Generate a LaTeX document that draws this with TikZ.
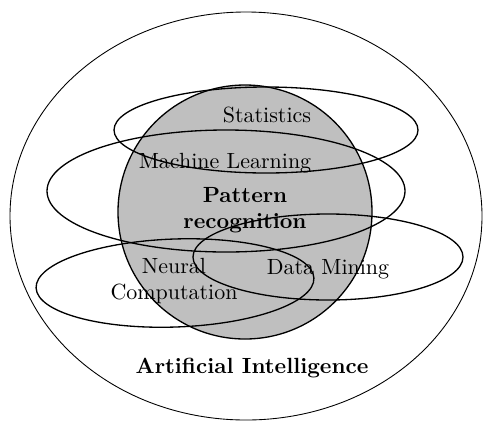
\documentclass[tikz,border=0pt]{standalone}
\usepackage{amsmath}
\usepackage{tikz}
\usepackage{xcolor}
\tikzset{
    outer-set/.style = {draw=black, thin},
    inner-set/.style = {draw=black, semithick},
    core-set/.style = {draw=black, semithick, fill=gray!50},
    set-label/.style = {inner sep=1pt, align=center},
    set-title/.style = {inner sep=1pt, align=center, font=\bfseries},
}

\begin{document}
\begin{tikzpicture}
\useasboundingbox (0,0) rectangle (7.728,-6.72);
\draw[outer-set] (3.936,-3.456) ellipse [x radius=3.776cm, y radius=3.264cm];
\draw[core-set] (3.92,-3.392) circle [radius=2.032cm];
\draw[inner-set] (4.256,-2.08) ellipse [x radius=2.432cm, y radius=0.688cm];
\draw[inner-set] (3.616,-3.056) ellipse [x radius=2.864cm, y radius=0.976cm];
\draw[inner-set, rotate around={2:(2.8,-4.528)}] (2.8,-4.528) ellipse [x radius=2.224cm, y radius=0.704cm];
\draw[inner-set] (5.248,-4.112) ellipse [x radius=2.16cm, y radius=0.688cm];
\node[set-label] (stats) at (4.272,-1.84) {Statistics};
\node[set-label] (ml) at (3.6,-2.608) {Machine Learning};
\node[set-title] (pr) at (3.92,-3.36) {Pattern\\recognition};
\node[set-label] (nc) at (2.784,-4.5) {Neural\\Computation};
\node[set-label] (dm) at (5.248,-4.304) {Data Mining};
\node[set-title] (ai) at (4.032,-5.888) {Artificial Intelligence};
\end{tikzpicture}
\end{document}
